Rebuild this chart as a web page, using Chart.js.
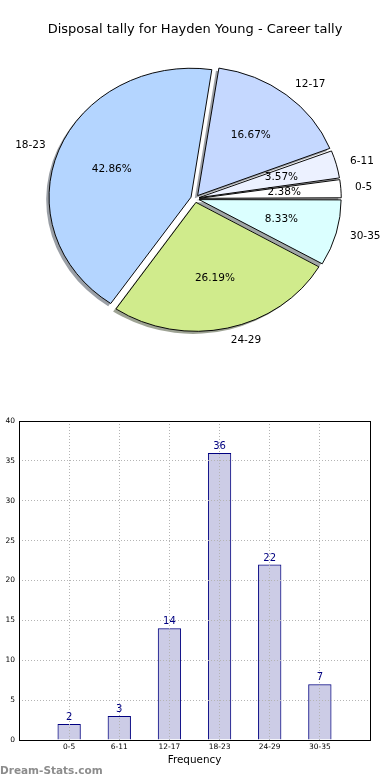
<!DOCTYPE html>
<html><head><meta charset="utf-8">
<script src="https://cdn.jsdelivr.net/npm/chart.js@4.4.1/dist/chart.umd.min.js"></script>
<style>
html,body{margin:0;padding:0;background:#fff;}
#wrap{position:relative;width:390px;height:780px;overflow:hidden;background:#fff;}
#pie{position:absolute;left:0;top:0;}
#bar{position:absolute;left:0;top:400px;}
#wm{position:absolute;left:0;top:763px;font:bold 10.5px 'DejaVu Sans';color:#8c8c8c;line-height:14px;white-space:nowrap;}
</style></head><body>
<div id="wrap">
<canvas id="pie" width="390" height="400"></canvas>
<canvas id="bar" width="390" height="380"></canvas>
<div id="wm"></div>
</div>
<script>
const TITLE = 'Disposal tally for Hayden Young - Career tally';
const categories = ['0-5', '6-11', '12-17', '18-23', '24-29', '30-35'];
const values = [2, 3, 14, 36, 22, 7];
const pieColors = ['#ffffff', '#ecf1ff', '#c5d8ff', '#b4d5ff', '#d0eb8c', '#dbffff'];
const yTicks = [0, 5, 10, 15, 20, 25, 30, 35, 40];
const X_TITLE = 'Frequency';
const WATERMARK = 'Dream-Stats.com';

document.getElementById('wm').textContent = WATERMARK;

const FONT = 'DejaVu Sans';
const SY = 0.908;          // matplotlib pie drawn in non-equal axes -> ellipse
const total = values.reduce((s, v) => s + v, 0);

// Chart.js draws clockwise; matplotlib counter-clockwise from 3 o'clock -> reverse order
const pieCats = categories.slice().reverse();
const pieVals = values.slice().reverse();
const pieCols = pieColors.slice().reverse();

function shadowOf(hex) {
  const n = parseInt(hex.slice(1), 16);
  const r = (n >> 16) & 255, g = (n >> 8) & 255, b = n & 255;
  return `rgba(${Math.round(r * 0.3)},${Math.round(g * 0.3)},${Math.round(b * 0.3)},0.5)`;
}

const ellipsePie = {
  id: 'ellipsePie',
  afterDatasetsUpdate(chart) {
    const meta = chart.getDatasetMeta(0);
    const R = meta.controller.outerRadius;
    meta.data.forEach(a => {
      const t = (a.options.offset || 0) / 4;
      const fix = 1 - Math.sin(Math.min(Math.PI, a.circumference || 0));
      a.outerRadius = R - t * fix;
    });
  },
  beforeDatasetsDraw(chart) {
    const ctx = chart.ctx;
    const meta = chart.getDatasetMeta(0);
    const arcs = meta.data;
    const R = meta.controller.outerRadius;
    const cx = arcs[0].x, cy = arcs[0].y;
    ctx.save();
    ctx.translate(cx, cy); ctx.scale(1, SY); ctx.translate(-cx, -cy);
    arcs.forEach((a, i) => {
      const t = (a.options.offset || 0) / 4;
      const mid = (a.startAngle + a.endAngle) / 2;
      const x = a.x + Math.cos(mid) * t - 2.84;
      const y = a.y + Math.sin(mid) * t + 2.84;
      ctx.beginPath();
      ctx.moveTo(x, y);
      ctx.arc(x, y, R, a.startAngle, a.endAngle);
      ctx.closePath();
      ctx.fillStyle = shadowOf(pieCols[i]);
      ctx.fill();
    });
  },
  afterDatasetsDraw(chart) {
    const ctx = chart.ctx;
    ctx.restore();
    const meta = chart.getDatasetMeta(0);
    const R = meta.controller.outerRadius;
    ctx.save();
    ctx.font = `10.5px '${FONT}'`;
    ctx.fillStyle = '#000';
    ctx.textBaseline = 'middle';
    meta.data.forEach((a, i) => {
      const t = (a.options.offset || 0) / 4;
      const mid = (a.startAngle + a.endAngle) / 2;
      const c = Math.cos(mid), s = Math.sin(mid);
      let px = a.x + c * (t + 0.6 * R), py = a.y + s * (t + 0.6 * R) * SY;
      ctx.textAlign = 'center';
      ctx.fillText((pieVals[i] / total * 100).toFixed(2) + '%', px, py);
      px = a.x + c * (t + 1.1 * R); py = a.y + s * (t + 1.1 * R) * SY;
      ctx.textAlign = c >= 0 ? 'left' : 'right';
      ctx.fillText(pieCats[i], px, py);
    });
    ctx.restore();
  }
};

new Chart(document.getElementById('pie'), {
  type: 'pie',
  data: {
    labels: pieCats,
    datasets: [{
      data: pieVals,
      backgroundColor: pieCols,
      borderColor: '#000',
      borderWidth: 1,
      offset: 17,
      hoverOffset: 17,
      clip: false
    }]
  },
  options: {
    responsive: false,
    animation: false,
    events: [],
    devicePixelRatio: 1,
    rotation: 90,
    radius: 142,
    layout: { padding: { left: 0, right: 0, top: 0, bottom: 40.4 } },
    plugins: {
      legend: { display: false },
      tooltip: { enabled: false },
      title: {
        display: true, text: TITLE, color: '#000',
        font: { family: FONT, size: 13, weight: 'normal' },
        padding: { top: 22, bottom: 0 }
      }
    }
  },
  plugins: [ellipsePie]
});

const frame = {
  id: 'frame',
  afterDraw(chart) {
    const { ctx, chartArea: a } = chart;
    ctx.save();
    ctx.strokeStyle = '#000';
    ctx.lineWidth = 1;
    ctx.strokeRect(Math.round(a.left) + 0.5, Math.round(a.top) + 0.5,
      Math.round(a.right - a.left), Math.round(a.bottom - a.top));
    const meta = chart.getDatasetMeta(0);
    ctx.font = `10px '${FONT}'`;
    ctx.fillStyle = '#000080';
    ctx.textAlign = 'center';
    ctx.textBaseline = 'alphabetic';
    meta.data.forEach((b, i) => {
      ctx.fillText(String(values[i]), b.x, b.y - 4);
    });
    ctx.restore();
  }
};

const gridOpts = { color: '#b4b4b4', lineWidth: 1, drawTicks: false, offset: false, z: 1 };
const borderOpts = { display: false, dash: [1, 2] };

new Chart(document.getElementById('bar'), {
  type: 'bar',
  data: {
    datasets: [{
      data: categories.map((c, i) => ({ x: i, y: values[i] })),
      backgroundColor: 'rgba(0,0,128,0.2)',
      borderColor: '#000080',
      borderWidth: 1,
      categoryPercentage: 1,
      barPercentage: 0.465
    }]
  },
  options: {
    responsive: false,
    animation: false,
    events: [],
    devicePixelRatio: 1,
    layout: { padding: { top: 21, right: 20, left: 0, bottom: 0 } },
    plugins: { legend: { display: false }, tooltip: { enabled: false } },
    scales: {
      x: {
        type: 'linear', min: -1, max: 6, offset: false,
        afterFit(s) { s.height = 40; },
        ticks: {
          stepSize: 1, autoSkip: false, maxRotation: 0, minRotation: 0, padding: 3,
          color: '#000', font: { family: FONT, size: 7.5 },
          callback: v => (categories[v] !== undefined ? categories[v] : '')
        },
        grid: gridOpts,
        border: borderOpts,
        title: {
          display: true, text: X_TITLE, color: '#000',
          font: { family: FONT, size: 10.4 },
          padding: { top: 0, bottom: 13.8 }
        }
      },
      y: {
        min: 0, max: 40,
        afterFit(s) { s.width = 19; },
        afterBuildTicks(s) { s.ticks = yTicks.map(v => ({ value: v })); },
        ticks: { padding: 4, color: '#000', font: { family: FONT, size: 7.5 } },
        grid: gridOpts,
        border: borderOpts
      }
    }
  },
  plugins: [frame]
});
</script>
</body></html>
